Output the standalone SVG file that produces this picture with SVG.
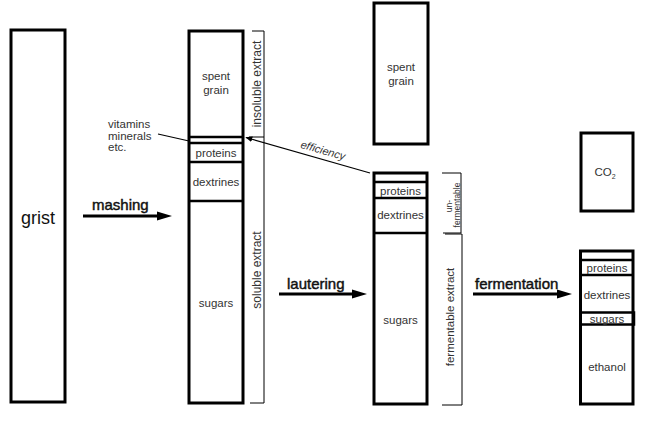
<svg xmlns="http://www.w3.org/2000/svg" width="650" height="429" viewBox="0 0 650 429">
<defs>
<style>
.box{fill:#fff;stroke:#000;stroke-width:3}
.div{stroke:#000;stroke-width:2.5;fill:none}
.br{stroke:#000;stroke-width:1;fill:none}
.lbl{font-family:"Liberation Sans",Arial,sans-serif;font-size:11.5px;fill:#333;text-anchor:middle}
.big{font-family:"Liberation Sans",Arial,sans-serif;font-size:18px;fill:#111;text-anchor:middle}
.act{font-family:"Liberation Sans",Arial,sans-serif;font-size:15px;fill:#111;stroke:#111;stroke-width:0.45}
.arr{stroke:#000;stroke-width:3;fill:none}
.thin{stroke:#000;stroke-width:1.2;fill:none}
</style>
<marker id="sm" viewBox="0 0 10 10" refX="9" refY="5" markerWidth="7" markerHeight="7" orient="auto" markerUnits="userSpaceOnUse">
<path d="M0,1 L10,5 L0,9 z" fill="#000"/>
</marker>
</defs>
<rect width="650" height="429" fill="#fff"/>

<g id="grist">
<rect class="box" x="11" y="30" width="54" height="372"/>
<text class="big" x="38" y="224">grist</text>
</g>

<g id="mash">
<rect class="box" x="189" y="31" width="54" height="372"/>
<line class="div" x1="189" y1="137" x2="243" y2="137"/>
<line class="div" x1="189" y1="143" x2="243" y2="143"/>
<line class="div" x1="189" y1="162" x2="243" y2="162"/>
<line class="div" x1="189" y1="201" x2="243" y2="201"/>
<text class="lbl" x="216" y="80">spent</text>
<text class="lbl" x="216" y="94">grain</text>
<text class="lbl" x="216" y="157">proteins</text>
<text class="lbl" x="216" y="185.5">dextrines</text>
<text class="lbl" x="216" y="307">sugars</text>
</g>

<g id="mash-brackets">
<path class="br" d="M252,31 H264 V137 H249"/>
<path class="br" d="M264,137 V403 H250"/>
<text class="lbl" style="font-size:12px" transform="translate(261,84) rotate(-90)">insoluble extract</text>
<text class="lbl" style="font-size:12px" transform="translate(261,270) rotate(-90)">soluble extract</text>
</g>

<g id="vitamins">
<text class="lbl" style="text-anchor:start" x="108" y="128">vitamins</text>
<text class="lbl" style="text-anchor:start" x="108" y="139.5">minerals</text>
<text class="lbl" style="text-anchor:start" x="108" y="151">etc.</text>
</g>

<g id="spent-grain">
<rect class="box" x="374" y="3" width="54" height="141"/>
<text class="lbl" x="401" y="70.5">spent</text>
<text class="lbl" x="401" y="84.5">grain</text>
</g>

<g id="wort">
<rect class="box" x="374" y="173" width="53" height="231"/>
<line class="div" x1="374" y1="182" x2="427" y2="182"/>
<line class="div" x1="374" y1="198" x2="427" y2="198"/>
<line class="div" x1="374" y1="233" x2="427" y2="233"/>
<text class="lbl" x="400.5" y="194.5">proteins</text>
<text class="lbl" x="400.5" y="219">dextrines</text>
<text class="lbl" x="400.5" y="324">sugars</text>
</g>

<g id="wort-brackets">
<path class="br" d="M442,173 H461 V233 H443"/>
<path class="br" d="M445,234 H462 V405 H442"/>
<text class="lbl" style="font-size:8.5px" transform="translate(452,206) rotate(-90)">un-</text>
<text class="lbl" style="font-size:8.5px" transform="translate(459.5,205) rotate(-90)">fermentable</text>
<text class="lbl" style="font-size:11.5px" transform="translate(454,317) rotate(-90)">fermentable extract</text>
</g>

<g id="co2">
<rect class="box" x="581" y="133" width="52" height="78"/>
<text class="lbl" x="605" y="175.5">CO<tspan style="font-size:7px" dy="3">2</tspan></text>
</g>

<g id="beer">
<rect class="box" x="580.5" y="251" width="52.5" height="153"/>
<line class="div" x1="580.5" y1="260" x2="633" y2="260"/>
<line class="div" x1="580.5" y1="275" x2="633" y2="275"/>
<rect class="div" x="580.5" y="312.5" width="53.5" height="12"/>
<text class="lbl" x="607" y="272">proteins</text>
<text class="lbl" x="607" y="299">dextrines</text>
<text class="lbl" x="607" y="322.5">sugars</text>
<text class="lbl" x="607" y="370.5">ethanol</text>
</g>

<g id="connectors">
<line class="arr" x1="83" y1="216" x2="159" y2="216"/>
<polygon points="157,211.5 172,216 157,220.5" fill="#000"/>
<text class="act" x="92" y="210">mashing</text>

<line class="arr" x1="279" y1="294" x2="354" y2="294"/>
<polygon points="352,289.5 367,294 352,298.5" fill="#000"/>
<text class="act" x="287" y="289">lautering</text>

<line class="arr" x1="473" y1="294" x2="559" y2="294"/>
<polygon points="557,289.5 572,294 557,298.5" fill="#000"/>
<text class="act" x="475" y="289">fermentation</text>

<line class="thin" x1="158" y1="134" x2="189" y2="141"/>
<line class="thin" x1="370" y1="173" x2="246" y2="137.5" marker-end="url(#sm)"/>
<text class="lbl" style="font-style:italic;font-size:11px" transform="translate(322,154) rotate(16)">efficiency</text>
</g>
</svg>
